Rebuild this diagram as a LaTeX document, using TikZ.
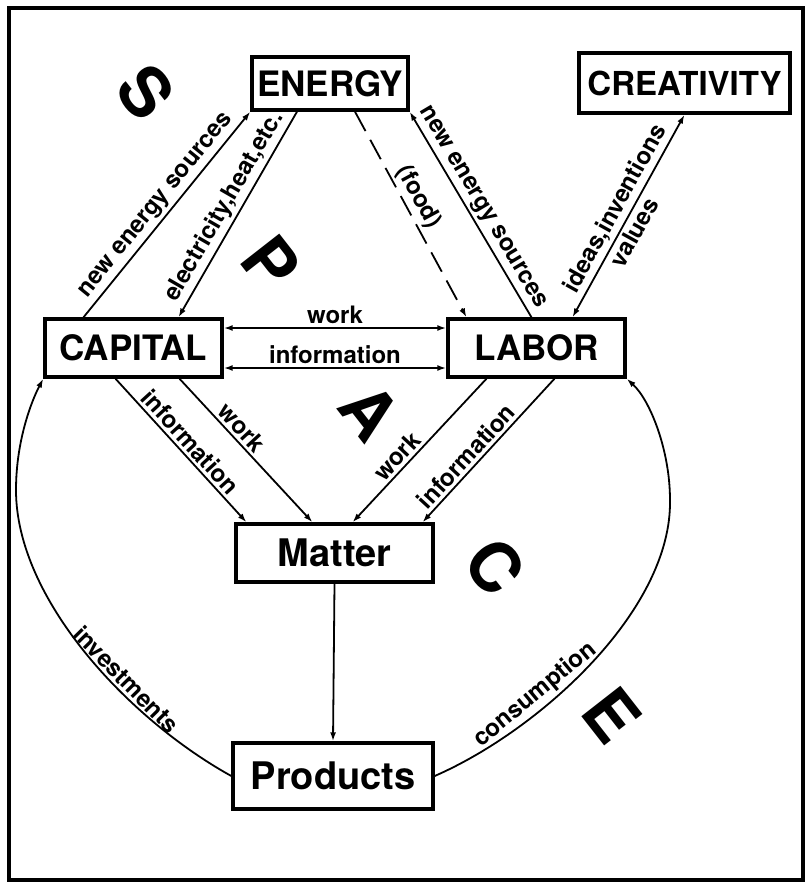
\documentclass[tikz,border=0pt]{standalone}
\usepackage{fontspec}
\setmainfont{TeX Gyre Heros}
\usetikzlibrary{arrows.meta}
\newcommand{\pxu}{0.5pt}

\begin{document}
\begin{tikzpicture}[x=\pxu, y=-\pxu, >={Latex[length=4.5pt,width=3pt]},
    box/.style={draw, rectangle, line width=1.7pt, inner sep=0pt, font=\fontsize{17.5}{17.5}\selectfont\bfseries},
    lbl/.style={font=\fontsize{12}{12}\selectfont\bfseries, inner sep=1.5pt},
    flow/.style={line width=0.9pt, ->},
    big/.style={font=\fontsize{34}{34}\selectfont\bfseries, rotate=-52}]
    \useasboundingbox (0,0) rectangle (806,884);
    \draw[line width=2.2pt] (9,8) rectangle (803,880);

    % Boxes
    \node[box, minimum width=156*\pxu, minimum height=53*\pxu] (energy) at (330,83.5) {ENERGY};
    \node[box, font=\fontsize{16.5}{16.5}\selectfont\bfseries, minimum width=211*\pxu, minimum height=60*\pxu] (creativity) at (684.5,83) {CREATIVITY};
    \node[box, minimum width=177*\pxu, minimum height=58*\pxu] (capital) at (133.5,348) {CAPITAL};
    \node[box, minimum width=177*\pxu, minimum height=58*\pxu] (labor) at (536.5,348) {LABOR};
    \node[box, font=\fontsize{19}{19}\selectfont\bfseries, minimum width=197*\pxu, minimum height=58*\pxu] (matter) at (334.5,553) {Matter};
    \node[box, font=\fontsize{19}{19}\selectfont\bfseries, minimum width=200*\pxu, minimum height=66*\pxu] (products) at (333,776) {Products};

    % S P A C E
    \node[big] (s) at (146,92) {S};
    \node[big] (p) at (271,263) {P};
    \node[big] (a) at (370,412) {A};
    \node[big] (c) at (495,567) {C};
    \node[big] (e) at (612,715) {E};

    % Energy
    \draw[flow] ([xshift=-50*\pxu]capital.north) -- node[lbl, above, sloped] {new energy sources} (energy.south west);
    \draw[flow] ([xshift=-33*\pxu]energy.south) -- node[lbl, above, sloped] {electricity,heat,etc.} ([xshift=45*\pxu]capital.north);
    \draw[flow, dash pattern=on 11pt off 5pt] ([xshift=25*\pxu]energy.south) -- node[lbl, above, sloped, pos=0.45] {(food)} ([xshift=-70*\pxu]labor.north);
    \draw[flow] ([xshift=-5*\pxu]labor.north) -- node[lbl, above, sloped] {new energy sources} (energy.south east);
    \draw[flow, <->] ([xshift=36*\pxu]labor.north) -- node[lbl, above, sloped] {ideas,inventions} node[lbl, below, sloped, pos=0.45] {values} (creativity.south);

    % Capital - Labor
    \draw[flow, <->] ([yshift=20*\pxu]capital.east) -- node[lbl, above] {work} ([yshift=20*\pxu]labor.west);
    \draw[flow, <->] ([yshift=-20*\pxu]capital.east) -- node[lbl, above] {information} ([yshift=-20*\pxu]labor.west);

    % Matter
    \draw[flow] ([xshift=-18*\pxu]capital.south) -- node[lbl, above, sloped] {information} ([xshift=-88*\pxu]matter.north);
    \draw[flow] ([xshift=46*\pxu]capital.south) -- node[lbl, above, sloped, pos=0.4] {work} ([xshift=-22*\pxu]matter.north);
    \draw[flow] ([xshift=-50*\pxu]labor.south) -- node[lbl, above, sloped, pos=0.6] {work} ([xshift=18*\pxu]matter.north);
    \draw[flow] ([xshift=18*\pxu]labor.south) -- node[lbl, above, sloped, pos=0.6] {information} ([xshift=88*\pxu]matter.north);
    \draw[flow] (matter.south) -- (products.north);

    % Products
    \draw[flow] (products.west) .. controls (130,720) and (16,600) .. node[lbl, above, sloped, pos=0.38] {investments} (16,490) .. controls (16,440) and (32,400) .. (capital.south west);
    \draw[flow] (products.east) .. controls (540,730) and (672,610) .. node[lbl, above, sloped, pos=0.34] {consumption} (670,500) .. controls (670,450) and (650,400) .. (labor.south east);
\end{tikzpicture}
\end{document}
